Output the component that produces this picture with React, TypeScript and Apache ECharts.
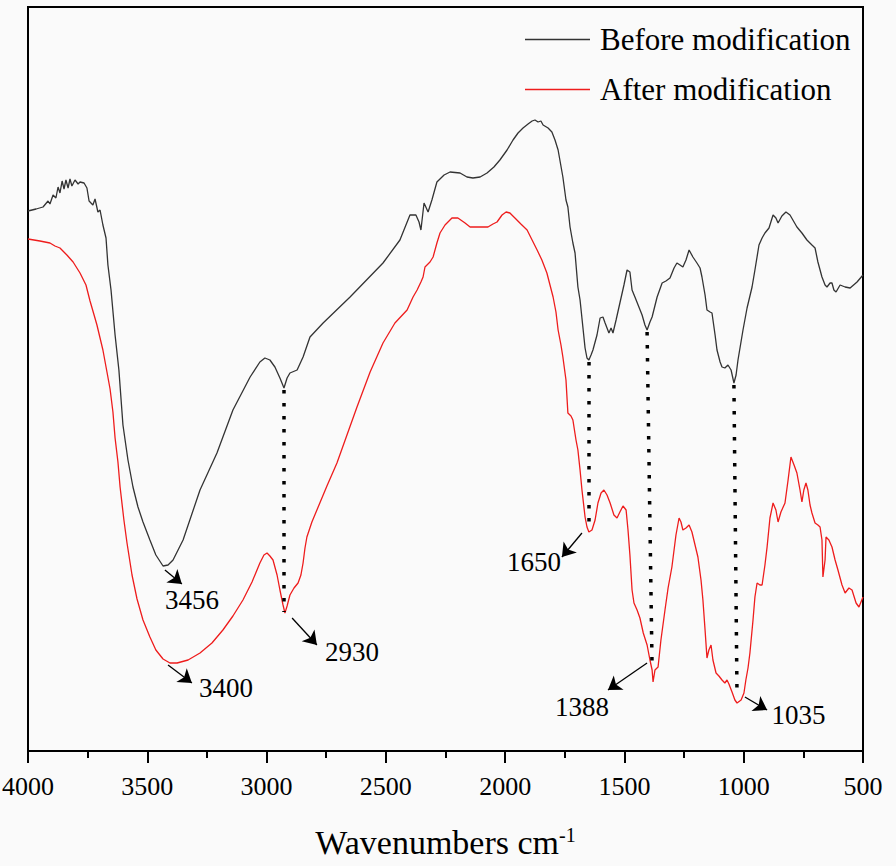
import React, { useEffect, useRef } from "react";
import * as echarts from "echarts";

const seriesNames = ["Before modification", "After modification"];

const beforeSpectrum: [number, number][] = [
  [4000,54.0],[3966,54.2],[3937,54.4],[3916,55.0],[3908,54.7],[3895,55.6],[3883,55.3],[3874,56.4],[3866,55.8],[3857,57.0],[3849,56.2],[3841,57.1],[3832,56.3],[3824,57.2],[3816,56.5],[3803,57.1],[3790,56.7],[3782,56.9],[3765,56.8],[3753,56.3],[3744,55.0],[3728,54.6],[3719,55.2],[3707,53.9],[3698,54.1],[3686,52.6],[3673,51.3],[3665,48.6],[3652,46.1],[3635,41.6],[3619,38.1],[3602,32.6],[3581,29.1],[3560,26.4],[3539,24.4],[3518,22.9],[3489,21.1],[3464,19.6],[3434,18.5],[3413,18.6],[3392,19.1],[3350,21.1],[3279,26.1],[3208,29.8],[3141,34.1],[3069,37.4],[3028,38.9],[3007,39.3],[2986,39.1],[2965,38.4],[2944,37.3],[2927,36.3],[2914,37.3],[2902,37.8],[2872,38.1],[2847,39.4],[2818,41.4],[2763,42.8],[2650,45.4],[2512,48.8],[2441,51.1],[2399,53.6],[2374,53.6],[2361,52.9],[2353,52.1],[2340,54.8],[2323,53.9],[2307,55.1],[2286,56.9],[2256,57.6],[2231,57.9],[2189,57.8],[2160,57.4],[2135,57.3],[2105,57.4],[2076,57.8],[2047,58.4],[2022,59.1],[1992,60.1],[1967,61.1],[1946,61.8],[1925,62.3],[1904,62.7],[1887,63.0],[1875,63.1],[1862,62.9],[1850,63.0],[1841,62.6],[1820,62.3],[1804,61.9],[1791,61.1],[1778,60.1],[1758,57.4],[1745,55.1],[1737,54.4],[1728,52.4],[1716,50.8],[1707,49.8],[1695,46.4],[1686,45.1],[1665,40.3],[1657,39.3],[1649,39.1],[1640,39.6],[1632,40.1],[1615,41.6],[1602,43.3],[1590,43.4],[1581,42.8],[1565,41.8],[1556,42.3],[1548,41.8],[1535,43.1],[1519,44.8],[1502,46.6],[1489,48.1],[1477,47.9],[1468,46.1],[1456,45.4],[1426,43.6],[1414,42.6],[1405,42.1],[1393,42.9],[1384,43.4],[1363,45.4],[1342,46.8],[1326,47.0],[1309,47.3],[1292,48.3],[1280,48.8],[1267,48.6],[1255,48.4],[1242,49.1],[1229,50.1],[1213,49.4],[1196,48.8],[1183,48.3],[1175,47.4],[1162,45.6],[1154,44.1],[1141,43.9],[1133,43.8],[1120,41.6],[1112,40.1],[1099,38.9],[1091,38.4],[1079,38.3],[1066,38.6],[1053,38.1],[1041,36.8],[1032,37.6],[1024,39.1],[1003,42.1],[986,44.3],[965,46.4],[953,48.1],[936,50.6],[923,51.3],[911,51.8],[894,52.3],[877,53.6],[865,53.3],[856,52.8],[840,53.5],[823,53.9],[806,53.6],[777,52.4],[756,51.8],[735,51.1],[714,50.6],[701,50.3],[689,48.9],[672,47.4],[659,46.6],[651,46.4],[638,46.8],[630,46.8],[622,46.1],[613,45.9],[596,46.6],[575,46.4],[554,46.3],[525,46.9],[500,47.6]
];

const afterSpectrum: [number, number][] = [
  [4000,51.2],[3950,51.0],[3908,50.8],[3887,50.5],[3866,50.3],[3837,49.6],[3811,48.9],[3782,47.8],[3757,46.6],[3740,45.0],[3723,43.6],[3711,42.6],[3698,41.3],[3686,40.1],[3669,37.9],[3656,36.2],[3644,33.9],[3635,31.3],[3623,28.9],[3614,26.4],[3598,23.1],[3585,20.8],[3564,17.6],[3543,15.2],[3518,13.1],[3489,11.4],[3464,10.1],[3434,9.2],[3405,8.8],[3375,8.8],[3329,9.1],[3279,9.8],[3229,10.8],[3183,12.1],[3141,13.5],[3099,15.1],[3061,16.9],[3028,18.8],[3011,19.6],[2998,19.8],[2986,19.5],[2973,19.1],[2956,17.6],[2944,16.1],[2931,14.6],[2923,13.8],[2914,14.5],[2902,15.6],[2885,16.3],[2868,16.8],[2856,17.6],[2847,18.8],[2839,20.3],[2831,21.4],[2810,22.9],[2789,24.1],[2747,26.5],[2705,28.8],[2663,31.6],[2621,34.4],[2566,37.9],[2512,40.8],[2462,42.8],[2411,44.1],[2386,45.4],[2369,46.1],[2353,46.9],[2344,47.4],[2336,48.4],[2315,48.9],[2302,49.4],[2286,50.8],[2273,51.8],[2252,52.6],[2223,53.3],[2198,53.3],[2168,52.8],[2147,52.4],[2105,52.4],[2072,52.4],[2051,52.7],[2034,52.9],[2013,53.6],[1996,53.9],[1980,53.8],[1959,53.3],[1934,52.7],[1908,52.1],[1887,51.1],[1866,50.1],[1846,49.1],[1825,47.8],[1812,46.6],[1799,45.4],[1787,43.9],[1778,42.1],[1766,40.6],[1758,39.4],[1745,37.1],[1737,33.8],[1724,33.5],[1716,33.1],[1703,31.1],[1695,30.1],[1686,28.1],[1678,26.1],[1665,23.4],[1657,22.4],[1649,21.9],[1636,22.1],[1623,23.1],[1611,24.8],[1598,25.8],[1586,26.1],[1573,25.6],[1560,24.8],[1544,23.6],[1531,23.3],[1519,23.9],[1506,24.5],[1493,24.1],[1485,22.1],[1477,19.6],[1468,16.1],[1460,14.8],[1447,14.1],[1435,13.3],[1421,11.8],[1405,10.6],[1393,9.1],[1384,8.1],[1380,6.9],[1372,8.1],[1359,8.4],[1347,11.1],[1330,14.1],[1317,16.3],[1301,18.4],[1284,21.6],[1271,23.3],[1263,22.9],[1255,22.1],[1242,22.3],[1229,22.6],[1217,21.9],[1204,20.6],[1192,19.4],[1179,17.1],[1171,15.1],[1162,12.1],[1154,9.3],[1146,10.1],[1137,10.6],[1129,9.1],[1116,7.8],[1104,7.5],[1091,7.1],[1079,6.8],[1070,7.1],[1062,6.7],[1049,5.9],[1037,5.1],[1028,4.8],[1011,5.1],[999,5.8],[991,7.1],[982,8.3],[974,9.8],[961,13.1],[953,15.4],[944,16.8],[932,16.6],[923,16.6],[911,18.6],[902,20.4],[890,23.3],[877,24.8],[865,24.1],[856,22.9],[844,23.9],[827,24.8],[814,27.1],[802,29.4],[789,28.6],[777,27.8],[764,26.1],[756,24.9],[748,26.1],[739,26.8],[731,26.1],[722,24.6],[714,23.8],[701,22.8],[689,22.6],[680,22.4],[672,21.1],[668,17.4],[659,19.1],[655,21.4],[643,21.1],[630,20.4],[617,19.1],[605,18.1],[588,16.6],[575,15.8],[559,16.3],[546,16.1],[529,14.8],[517,14.4],[500,15.4]
];

// dotted guide lines: [wavenumber top, value top, wavenumber bottom, value bottom]
const peakGuides: [number, number, number, number][] = [
  [2927, 36.1, 2927, 13.9],
  [1649, 38.9, 1649, 22.1],
  [1405, 41.9, 1384, 8.3],
  [1041, 36.6, 1028, 5.4],
];

// arrows: [from wn, from value, to wn, to value]
const peakArrows: [number, number, number, number][] = [
  [3426, 18.1, 3355, 16.7],
  [3413, 8.6, 3313, 6.8],
  [2893, 13.3, 2789, 10.6],
  [1678, 21.8, 1762, 19.4],
  [1405, 8.8, 1569, 6.1],
  [995, 5.4, 902, 4.1],
];

const peakLabels = ["3456", "3400", "2930", "1650", "1388", "1035"];
const peakLabelPos: [number, number][] = [
  [3313, 15.1],
  [3170, 6.3],
  [2642, 9.9],
  [1879, 18.9],
  [1678, 4.4],
  [770, 3.6],
];

const FONT = '"Liberation Serif", "Times New Roman", serif';

export default function App() {
  const ref = useRef<HTMLDivElement>(null);
  useEffect(() => {
    if (!ref.current) return;
    const chart = echarts.init(ref.current, null, { renderer: "svg" });
    chart.setOption({
      animation: false,
      backgroundColor: "#fafafa",
      grid: {
        left: 28,
        right: 33,
        top: 7,
        bottom: 115,
        show: true,
        borderColor: "#000",
        borderWidth: 2,
        backgroundColor: "transparent",
        containLabel: false,
        outerBoundsMode: "none",
      },
      legend: {
        left: 520,
        top: 19,
        orient: "vertical",
        icon: "rect",
        itemWidth: 65,
        itemHeight: 1.5,
        itemGap: 19,
        textStyle: { fontFamily: FONT, fontSize: 31, color: "#000", padding: [0, 0, 0, 5] },
        data: seriesNames,
      },
      xAxis: {
        type: "value",
        min: 500,
        max: 4000,
        interval: 500,
        inverse: true,
        axisLine: { show: true, lineStyle: { color: "#000", width: 2 } },
        axisTick: { show: true, length: 12, lineStyle: { color: "#000", width: 2 } },
        minorTick: { show: true, splitNumber: 2, length: 7, lineStyle: { color: "#000", width: 2 } },
        splitLine: { show: false },
        axisLabel: {
          fontFamily: FONT,
          fontSize: 26,
          color: "#000",
          margin: 22,
          formatter: (v: number) => String(v),
        },
        name: "{a|Wavenumbers cm}{b|-1}",
        nameLocation: "middle",
        nameGap: 74,
        nameTextStyle: {
          rich: {
            a: { fontFamily: FONT, fontSize: 34, color: "#000" },
            b: { fontFamily: FONT, fontSize: 20, color: "#000", verticalAlign: "top", padding: [0, 0, 14, 0] },
          },
        },
      },
      yAxis: {
        type: "value",
        min: 0,
        max: 74.4,
        show: false,
      },
      series: [
        {
          name: seriesNames[0],
          type: "line",
          data: beforeSpectrum,
          symbol: "none",
          lineStyle: { color: "#333333", width: 1.3 },
          itemStyle: { color: "#333333" },
          z: 3,
          markLine: {
            silent: true,
            symbol: ["none", "none"],
            label: { show: false },
            lineStyle: { color: "#000", width: 3.5, type: [3.5, 9.5], cap: "butt" },
            data: peakGuides.map((g) => [
              { coord: [g[0], g[1]] },
              { coord: [g[2], g[3]] },
            ]),
          },
        },
        {
          name: seriesNames[1],
          type: "line",
          data: afterSpectrum,
          symbol: "none",
          lineStyle: { color: "#ee1c1c", width: 1.3 },
          itemStyle: { color: "#ee1c1c" },
          z: 2,
          markLine: {
            silent: true,
            symbol: ["none", "arrow"],
            symbolSize: 13,
            label: { show: false },
            lineStyle: { color: "#000", width: 1.3, type: "solid" },
            data: peakArrows.map((a) => [
              { coord: [a[0], a[1]] },
              { coord: [a[2], a[3]] },
            ]),
          },
          markPoint: {
            silent: true,
            symbol: "rect",
            symbolSize: 1,
            itemStyle: { color: "transparent" },
            label: {
              show: true,
              position: "inside",
              fontFamily: FONT,
              fontSize: 27,
              color: "#000",
              formatter: (p: any) => p.name,
            },
            data: peakLabels.map((t, i) => ({ name: t, coord: peakLabelPos[i] })),
          },
        },
      ],
    });
    return () => chart.dispose();
  }, []);
  return (
    <div
      ref={ref}
      style={{ position: "absolute", left: 0, top: 0, width: 896, height: 866 }}
    />
  );
}
